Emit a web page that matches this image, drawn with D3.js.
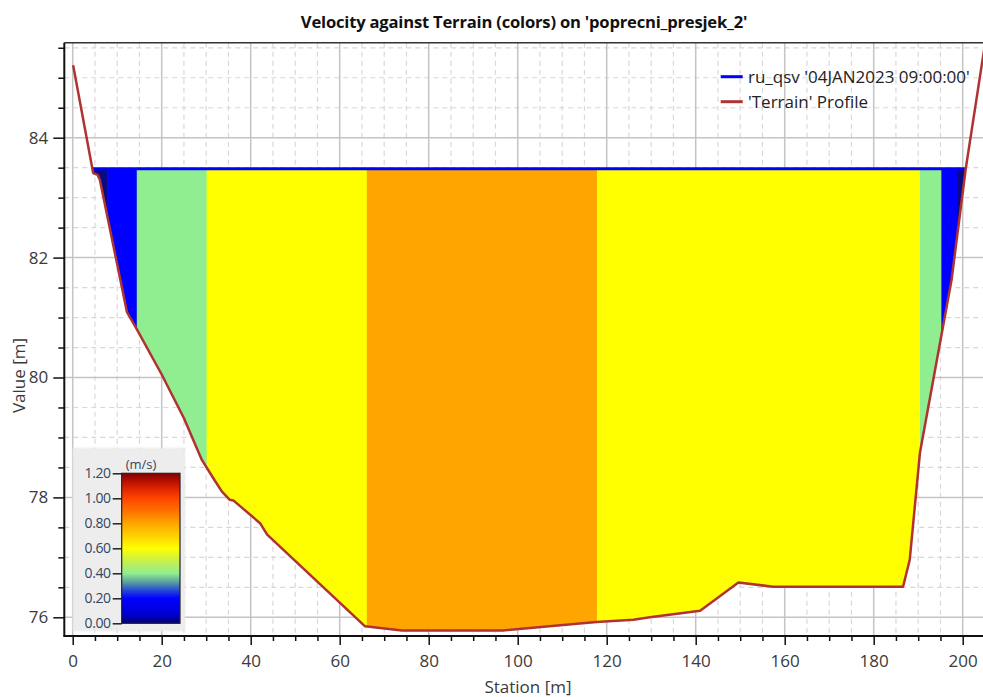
<!DOCTYPE html>
<html>
<head>
<meta charset="utf-8">
<script src="https://cdn.jsdelivr.net/npm/d3@7"></script>
<style>
  body { margin: 0; background: #ffffff; }
  svg { display: block; }
  text { font-family: "Open Sans", "Noto Sans", sans-serif; }
</style>
</head>
<body>
<svg id="chart" width="983" height="697"></svg>
<script>
// Cross-section terrain profile (station [m], elevation [m])
const terrainStation = [0.1, 4.6, 5.6, 6.1, 12.2, 14.3, 20, 25, 29, 31.6, 33.5, 35.3, 36.1, 42.1, 43.7,
  65.7, 74, 96.7, 117.7, 126, 129.7, 141, 149.6, 157.4, 186.6, 188.1, 190.4, 197.5, 200.7, 205.5];
const terrainElevation = [85.21, 83.41, 83.38, 83.30, 81.09, 80.82, 80.05, 79.32, 78.63, 78.32, 78.10, 77.96, 77.95, 77.57, 77.38,
  75.85, 75.78, 75.78, 75.92, 75.96, 76.00, 76.11, 76.58, 76.51, 76.51, 76.96, 78.75, 81.63, 83.49, 85.80];

// Water surface elevation of ru_qsv at 04JAN2023 09:00
const waterSurface = 83.48;

// Velocity slices across the wetted section: interior boundaries and velocity of each slice [m/s]
const sliceBounds = [7.8, 14.4, 30.1, 66.1, 117.8, 190.4, 195.2, 198.9];
const sliceVelocity = [0.05, 0.2, 0.4, 0.6, 0.8, 0.6, 0.4, 0.2, 0.05];

// Axis ticks
const xMajorTicks = [0, 20, 40, 60, 80, 100, 120, 140, 160, 180, 200];
const yMajorTicks = [76, 78, 80, 82, 84];
const colorbarTicks = [0, 0.2, 0.4, 0.6, 0.8, 1.0, 1.2];

const legendLabels = ["ru_qsv '04JAN2023 09:00:00'", "'Terrain' Profile"];
const titleText = "Velocity against Terrain (colors) on 'poprecni_presjek_2'";

// ---- layout ----
const plot = { left: 64.3, right: 990, top: 42.7, bottom: 636 };
const pxPerStation = (962.7 - 72.7) / 200;
const pxPerMeter = (617.3 - 137.7) / 8;

const x = d3.scaleLinear()
  .domain([(plot.left - 72.7) / pxPerStation, (plot.right - 72.7) / pxPerStation])
  .range([plot.left, plot.right]);
const y = d3.scaleLinear()
  .domain([76 - (plot.bottom - 617.3) / pxPerMeter, 84 + (137.7 - plot.top) / pxPerMeter])
  .range([plot.bottom, plot.top]);

const svg = d3.select("#chart");
const defs = svg.append("defs");

defs.append("clipPath").attr("id", "plotClip")
  .append("rect")
  .attr("x", plot.left).attr("y", plot.top)
  .attr("width", plot.right - plot.left).attr("height", plot.bottom - plot.top);

// ---- grid ----
const grid = svg.append("g").attr("clip-path", "url(#plotClip)");
const xMinor = d3.range(0, 206, 5).filter(v => v % 20 !== 0);
const yMinor = d3.range(75.5, 86, 0.5).filter(v => Math.abs(v % 2) > 1e-6);

grid.selectAll(".vminor").data(xMinor).join("line")
  .attr("x1", d => x(d)).attr("x2", d => x(d))
  .attr("y1", plot.top).attr("y2", plot.bottom)
  .attr("stroke", "#d8d8d8").attr("stroke-width", 1.2).attr("stroke-dasharray", "5,4");
grid.selectAll(".hminor").data(yMinor).join("line")
  .attr("x1", plot.left).attr("x2", plot.right)
  .attr("y1", d => y(d)).attr("y2", d => y(d))
  .attr("stroke", "#d8d8d8").attr("stroke-width", 1.2).attr("stroke-dasharray", "5,4");
grid.selectAll(".vmajor").data(xMajorTicks).join("line")
  .attr("x1", d => x(d)).attr("x2", d => x(d))
  .attr("y1", plot.top).attr("y2", plot.bottom)
  .attr("stroke", "#c4c4c4").attr("stroke-width", 1.5);
grid.selectAll(".hmajor").data(yMajorTicks).join("line")
  .attr("x1", plot.left).attr("x2", plot.right)
  .attr("y1", d => y(d)).attr("y2", d => y(d))
  .attr("stroke", "#c4c4c4").attr("stroke-width", 1.5);

// ---- wetted area ----
const terrain = terrainStation.map((s, i) => [s, terrainElevation[i]]);

// Insert the points where the terrain crosses the water surface
const profile = [];
const wetEdges = [];
terrain.forEach((p, i) => {
  if (i > 0) {
    const q = terrain[i - 1];
    if ((q[1] - waterSurface) * (p[1] - waterSurface) < 0) {
      const t = (waterSurface - q[1]) / (p[1] - q[1]);
      const c = [q[0] + t * (p[0] - q[0]), waterSurface];
      profile.push(c);
      wetEdges.push(c[0]);
    }
  }
  profile.push(p);
});

const wetArea = d3.area()
  .x(d => x(d[0]))
  .y0(d => y(Math.min(d[1], waterSurface)))
  .y1(y(waterSurface));

defs.append("clipPath").attr("id", "wetClip")
  .append("path").attr("d", wetArea(profile));

const velocityClass = d3.scaleThreshold()
  .domain([0.15, 0.3, 0.5, 0.7])
  .range(["#0a0a82", "#0000ff", "#90ee90", "#ffff00", "#ffa500"]);

const edges = [x.domain()[0], ...sliceBounds, x.domain()[1]];
const slices = sliceVelocity.map((v, i) => ({ x0: edges[i], x1: edges[i + 1], v }));

const wet = svg.append("g").attr("clip-path", "url(#plotClip)");
wet.append("g").attr("clip-path", "url(#wetClip)")
  .selectAll("rect").data(slices).join("rect")
  .attr("x", d => x(d.x0))
  .attr("width", d => x(d.x1) - x(d.x0) + 0.5)
  .attr("y", y(waterSurface))
  .attr("height", plot.bottom - y(waterSurface))
  .attr("fill", d => velocityClass(d.v));

// Water surface line
wet.append("line")
  .attr("x1", x(wetEdges[0])).attr("x2", x(wetEdges[wetEdges.length - 1]))
  .attr("y1", y(waterSurface)).attr("y2", y(waterSurface))
  .attr("stroke", "#0000ff").attr("stroke-width", 3);

// Terrain line
wet.append("path")
  .attr("d", d3.line().x(d => x(d[0])).y(d => y(d[1]))(terrain))
  .attr("fill", "none")
  .attr("stroke", "#b03232").attr("stroke-width", 2.5)
  .attr("stroke-linejoin", "round");

// ---- axes ----
const axisColor = "#111";
const tickText = "#3a3a3a";

svg.append("g").attr("transform", `translate(0,${plot.bottom})`)
  .call(d3.axisBottom(x).tickValues(xMajorTicks).tickSize(9).tickSizeOuter(0).tickPadding(10));
svg.append("g").attr("transform", `translate(0,${plot.bottom})`)
  .call(d3.axisBottom(x).tickValues(xMinor).tickSize(5).tickFormat("").tickSizeOuter(0));

svg.append("g").attr("transform", `translate(${plot.left},0)`)
  .call(d3.axisLeft(y).tickValues(yMajorTicks).tickSize(11).tickSizeOuter(0).tickPadding(5));
svg.append("g").attr("transform", `translate(${plot.left},0)`)
  .call(d3.axisLeft(y).tickValues(yMinor.filter(v => v > y.domain()[0] && v < y.domain()[1]))
    .tickSize(6).tickFormat("").tickSizeOuter(0));

svg.selectAll(".domain").remove();
svg.selectAll(".tick line").attr("stroke", axisColor).attr("stroke-width", 1.5);
svg.selectAll(".tick text").attr("fill", tickText).attr("font-size", 17);

// Frame: top border and axis lines
svg.append("line").attr("x1", plot.left).attr("x2", 983)
  .attr("y1", plot.top).attr("y2", plot.top)
  .attr("stroke", "#333").attr("stroke-width", 1.5);
svg.append("line").attr("x1", plot.left).attr("x2", plot.left)
  .attr("y1", plot.top).attr("y2", plot.bottom + 0.75)
  .attr("stroke", axisColor).attr("stroke-width", 2);
svg.append("line").attr("x1", plot.left - 0.75).attr("x2", 983)
  .attr("y1", plot.bottom).attr("y2", plot.bottom)
  .attr("stroke", axisColor).attr("stroke-width", 2);

// Axis titles and chart title
svg.append("text")
  .attr("x", 524).attr("y", 28)
  .attr("text-anchor", "middle")
  .attr("font-size", 16.6).attr("font-weight", 700).attr("fill", "#111")
  .attr("letter-spacing", -0.2)
  .text(titleText);

svg.append("text")
  .attr("x", 528).attr("y", 693)
  .attr("text-anchor", "middle")
  .attr("font-size", 17).attr("fill", tickText)
  .text("Station [m]");

svg.append("text")
  .attr("transform", `translate(25,${y(80) - 2}) rotate(-90)`)
  .attr("text-anchor", "middle")
  .attr("font-size", 17).attr("fill", tickText)
  .text("Value [m]");

// ---- legend ----
const legendColors = ["#0000ff", "#b03232"];
const legend = svg.append("g");
legendLabels.forEach((label, i) => {
  const ly = 76.7 + i * 25;
  legend.append("line")
    .attr("x1", 720.7).attr("x2", 742.7).attr("y1", ly).attr("y2", ly)
    .attr("stroke", legendColors[i]).attr("stroke-width", 3);
  legend.append("text")
    .attr("x", 748).attr("y", ly + 6)
    .attr("font-size", 17).attr("fill", "#222")
    .text(label);
});

// ---- colour bar ----
const cbBox = { x: 72.7, y: 448, w: 112.3, h: 183 };
const cb = d3.scaleLinear().domain([0, 1.2]).range([623.3, 473.3]);
const cbX = 121.7, cbW = 58.3;

const colorbarStops = [
  [0.00, "#00007a"], [0.08, "#0000d8"], [0.20, "#0000ff"], [0.27, "#2a50d0"],
  [0.33, "#5aa0a0"], [0.40, "#90ee90"], [0.50, "#c8f04a"], [0.60, "#ffff00"],
  [0.70, "#ffd000"], [0.80, "#ffa500"], [0.90, "#ff7000"], [1.00, "#ff4500"],
  [1.10, "#d41a00"], [1.20, "#800000"]
];
const grad = defs.append("linearGradient").attr("id", "velocityRamp")
  .attr("x1", 0).attr("y1", 1).attr("x2", 0).attr("y2", 0);
grad.selectAll("stop").data(colorbarStops).join("stop")
  .attr("offset", d => d[0] / 1.2)
  .attr("stop-color", d => d[1]);

defs.append("filter").attr("id", "boxSoft")
  .append("feGaussianBlur").attr("stdDeviation", 1.2);

svg.append("rect")
  .attr("x", cbBox.x).attr("y", cbBox.y).attr("width", cbBox.w).attr("height", cbBox.h)
  .attr("fill", "#e9e9e9").attr("filter", "url(#boxSoft)");
svg.append("rect")
  .attr("x", cbBox.x + 1.5).attr("y", cbBox.y + 1.5).attr("width", cbBox.w - 3).attr("height", cbBox.h - 3)
  .attr("fill", "#ededed");

svg.append("rect")
  .attr("x", cbX).attr("y", cb(1.2)).attr("width", cbW).attr("height", cb(0) - cb(1.2))
  .attr("fill", "url(#velocityRamp)")
  .attr("stroke", "#222").attr("stroke-width", 1.2);

const cbAxis = svg.append("g").attr("transform", `translate(${cbX},0)`)
  .call(d3.axisLeft(cb).tickValues(colorbarTicks).tickFormat(d3.format(".2f"))
    .tickSize(9).tickSizeOuter(0).tickPadding(2));
cbAxis.select(".domain").remove();
cbAxis.selectAll(".tick line").attr("stroke", "#222").attr("stroke-width", 1.5);
cbAxis.selectAll(".tick text").attr("fill", "#34465c").attr("font-size", 14)
  .attr("letter-spacing", -0.4);

svg.append("text")
  .attr("x", 141).attr("y", 469)
  .attr("text-anchor", "middle")
  .attr("font-size", 13).attr("fill", "#34465c")
  .text("(m/s)");
</script>
</body>
</html>
